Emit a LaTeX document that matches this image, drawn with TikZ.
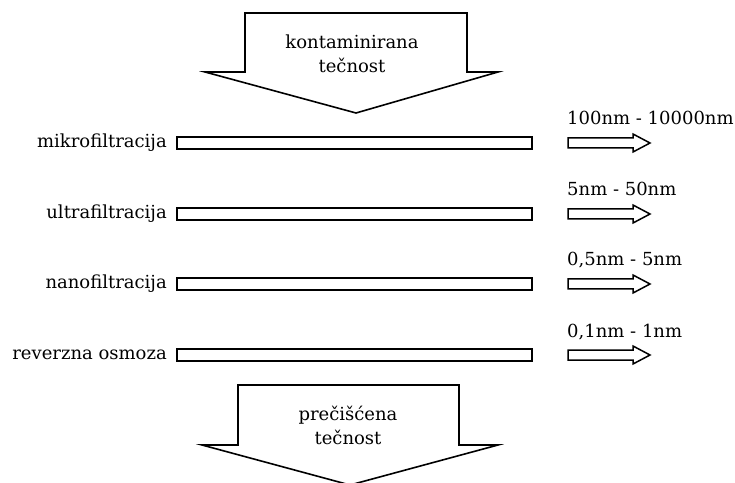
\documentclass[tikz,border=0pt]{standalone}
\usepackage{fontspec}
\setmainfont{DejaVu Serif}
\usetikzlibrary{positioning}

\tikzset{
  membrane/.style={draw, line width=1.7pt, fill=white},
  bigarrow/.style={draw, line width=1.6pt, fill=white, line join=miter},
  poresize/.style={anchor=base west, inner sep=0pt},
  processname/.style={anchor=east, inner sep=0pt}
}

\begin{document}
\begin{tikzpicture}[x=1pt, y=1pt, font=\fontsize{18}{24}\selectfont]
  \useasboundingbox (0,0) rectangle (735,482);

  % ulaz
  \draw[bigarrow] (245,469) -- (467,469) -- (467,410) -- (498,410) -- (356,369)
    -- (205,410) -- (245,410) -- cycle;
  \node[align=center] (ulaz) at (352,428) {kontaminirana\\tečnost};

  % membrane
  \foreach \yy/\ime/\opseg [count=\i] in {339/mikrofiltracija/100nm - 10000nm,
      268/ultrafiltracija/5nm - 50nm,
      198/nanofiltracija/0{,}5nm - 5nm,
      127/reverzna osmoza/0{,}1nm - 1nm} {
    \node[processname] (naziv\i) at (167,\yy) {\ime};
    \draw[membrane] (177,\yy-6) rectangle (532,\yy+6);
    \draw[bigarrow, line width=1.5pt] (568,\yy-5) -- (633,\yy-5) -- (633,\yy-9)
      -- (650,\yy) -- (633,\yy+9) -- (633,\yy+5) -- (568,\yy+5) -- cycle;
    \node[poresize] (opseg\i) at (567,\yy+18) {\opseg};
  }

  % izlaz
  \draw[bigarrow] (238,97) -- (459,97) -- (459,37) -- (498,37) -- (350,-3)
    -- (202,37) -- (238,37) -- cycle;
  \node[align=center] (izlaz) at (348,57) {prečišćena\\tečnost};
\end{tikzpicture}
\end{document}
